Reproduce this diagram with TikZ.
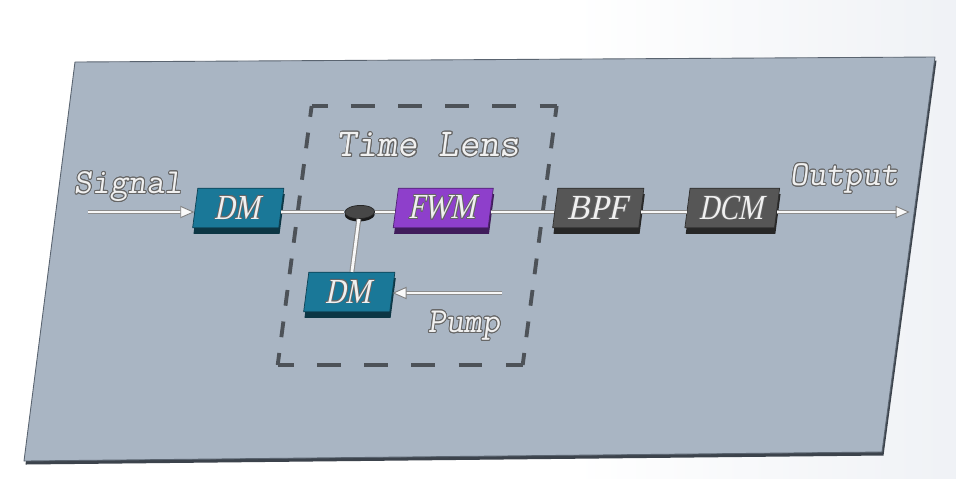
\documentclass[tikz,border=0pt]{standalone}
\usepackage{fontspec}
\usepackage{xcolor}
\usepackage{graphicx}
\usepackage[copies]{contour}
\usepackage{tikz}
\usetikzlibrary{arrows.meta,calc,positioning,shapes.geometric,shadows}

\newfontfamily\boxfont[FakeSlant=0.1]{Liberation Serif}
\contourlength{0.5pt}

\definecolor{bgtint}{HTML}{DCE1EA}
\definecolor{platefill}{HTML}{A9B5C3}
\definecolor{plateedge}{HTML}{5A6470}
\definecolor{platethick}{HTML}{3C434C}
\definecolor{dmcol}{HTML}{1A7898}
\definecolor{fwmcol}{HTML}{8E3FCB}
\definecolor{filtcol}{HTML}{565656}
\definecolor{lenscol}{HTML}{4D5258}

\newcommand{\engrave}[1]{\contour{black!60}{\color{white!88!gray}#1}}
\newcommand{\blktext}[2][0.8]{\scalebox{#1}[1]{\engrave{#2}}}

\pgfdeclarehorizontalshading{bgfade}{100bp}{color(0bp)=(white); color(55bp)=(white); color(100bp)=(bgtint)}

\begin{document}
\begin{tikzpicture}[x=0.02cm,y=-0.02cm,line join=round,
  blk/.style={fill=#1,draw=#1!55!black,line width=0.4pt,
    minimum width=49pt,minimum height=22.5pt,inner sep=0pt,
    font=\boxfont\fontsize{20}{22}\selectfont,
    general shadow={fill=#1!45!black,shadow yshift=-3.4pt,shadow xshift=0.5pt}},
  jnc/.style={ellipse,fill=black!72,draw=black!85,line width=0.4pt,
    minimum width=17pt,minimum height=7.5pt,inner sep=0pt,
    general shadow={fill=black!90,shadow yshift=-1.6pt}},
  lbl/.style={inner sep=0pt,font=\ttfamily\fontsize{20}{22}\selectfont},
  fiber/.style={draw=white!94!gray,line width=1.6pt,
    preaction={draw=black!45,line width=2.8pt}},
  fiberarrow/.style={draw=white!94!gray,line width=1.6pt,
    -{Triangle[length=8pt,width=7pt,line width=0.5pt,color=black!50,fill=white!95!gray]},
    preaction={draw=black!45,line width=2.8pt,arrows=-,shorten >=6pt}},
  lensh/.style={draw=lenscol,line width=2.2pt,dash pattern=on 13.6pt off 13.26pt,dash phase=4.5pt},
  lensv/.style={draw=lenscol,line width=2.2pt,dash pattern=on 9pt off 9.07pt,dash phase=2.8pt}]

  \useasboundingbox (0,0) rectangle (956,478);
  \shade[shading=bgfade] (0,0) rectangle (956,478);

  %% ---------------------------------------------------------------
  %% the plate (seen in perspective)
  %% ---------------------------------------------------------------
  \fill[platethick] (76.5,65.5) -- (936.5,60.5) -- (883.5,455.5) -- (25.5,464.5) -- cycle;
  \filldraw[fill=platefill,draw=plateedge,line width=0.5pt]
    (75,62) -- (935,57) -- (882,452) -- (24,461) -- cycle;

  %% ---------------------------------------------------------------
  %% set-up drawn on the plate
  %% ---------------------------------------------------------------
  \begin{scope}[shift={(430,210)},xslant=0.131,transform shape]
    % time lens frame
    \coordinate (lensNW) at (-132,-104);
    \coordinate (lensNE) at (113,-104);
    \coordinate (lensSE) at (113,155);
    \coordinate (lensSW) at (-132,155);
    \draw[lensh] (lensNW) -- (lensNE);
    \draw[lensh] (lensSW) -- (lensSE);
    \draw[lensv] (lensNW) -- (lensSW);
    \draw[lensv] (lensNE) -- (lensSE);
    \node[lbl,font=\ttfamily\fontsize{22.5}{24}\selectfont] (lens) at (-8.5,-65) {\engrave{Time Lens}};

    % blocks
    \node[blk=dmcol] (dmA) at (-192,-2) {\blktext{DM}};
    \node[blk=fwmcol,minimum width=54pt] (fwm) at (13,-2) {\blktext{FWM}};
    \node[blk=filtcol] (bpf) at (168,-2) {\blktext[0.95]{BPF}};
    \node[blk=filtcol,minimum width=51pt] (dcm) at (302,-2) {\blktext{DCM}};
    \node[blk=dmcol] (dmB) at (-70,82) {\blktext{DM}};
    \node[jnc] (jn) at (-70,2) {};

    % free ends
    \coordinate (sigin) at (-342,2);
    \coordinate (outend) at (480,2);
    \coordinate (pumpin) at (83,83);

    % fibres
    \draw[fiberarrow] (sigin) -- (dmA.west |- sigin);
    \draw[fiber] (dmA.east |- jn) -- (jn.west);
    \draw[fiber] (jn.east) -- (fwm.west |- jn);
    \draw[fiber] (fwm.east |- jn) -- (bpf.west |- jn);
    \draw[fiber] (bpf.east |- jn) -- (dcm.west |- jn);
    \draw[fiberarrow] (dcm.east |- jn) -- (outend);
    \draw[fiber] (jn.south) -- (dmB.north);
    \draw[fiberarrow] (pumpin) -- (dmB.east |- pumpin);

    % labels
    \node[lbl] (sig) at (-304,-23) {\engrave{Signal}};
    \node[lbl] (out) at (411,-31) {\engrave{Output}};
    \node[lbl] (pump) at (50,116) {\engrave{Pump}};
  \end{scope}

\end{tikzpicture}
\end{document}
